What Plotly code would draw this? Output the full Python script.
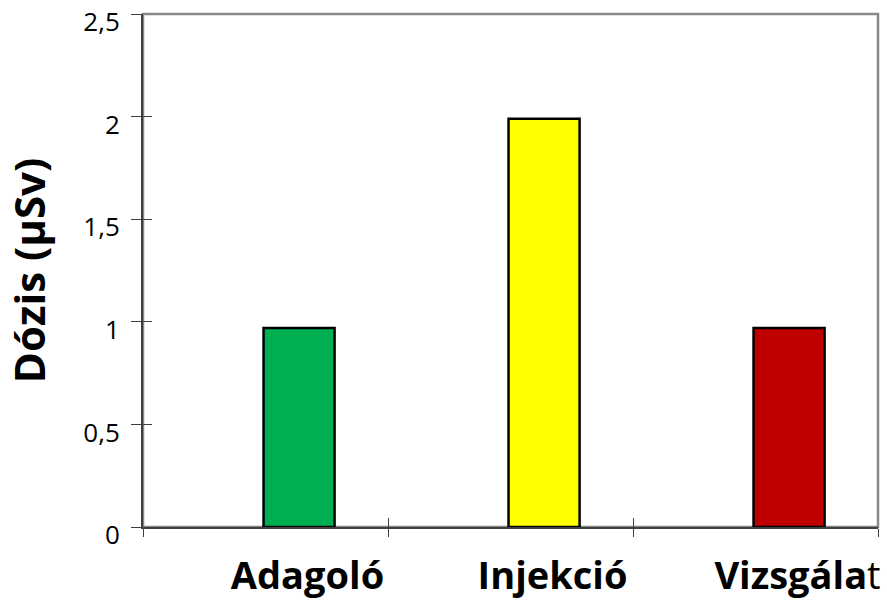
import plotly.graph_objects as go

categories = ["Adagoló", "Injekció", "Vizsgálat"]
tick_labels = ["<b>Adagoló</b>", "<b>Injekció</b>", "<b>Vizsgála</b>t"]
doses = [0.97, 1.99, 0.97]
bar_colors = ["#00B050", "#FFFF00", "#C00000"]
y_ticks = [0, 0.5, 1, 1.5, 2, 2.5]
y_title = "Dózis (µSv)"

FONT = "Open Sans"
AXIS_DARK = "#3f3f3f"

fig = go.Figure()
fig.add_trace(go.Bar(
    x=categories, y=doses,
    marker=dict(color=bar_colors, line=dict(color="black", width=2.5)),
    width=0.29, offset=-0.008,
    showlegend=False, hoverinfo="x+y",
))
# dummy trace for overlay axes (inner half of crossing ticks)
fig.add_trace(go.Scatter(x=[None], y=[None], xaxis="x2", yaxis="y2",
                         showlegend=False, hoverinfo="skip"))

fig.update_layout(
    width=887, height=601,
    margin=dict(l=143, r=9, t=14, b=74, autoexpand=False),
    paper_bgcolor="white", plot_bgcolor="white",
    separators=", ",
    font=dict(family=FONT, color="black"),
    xaxis=dict(
        type="category", categoryarray=categories, categoryorder="array",
        range=[-0.5, 2.5], tickson="boundaries",
        tickmode="array", tickvals=categories, ticktext=tick_labels,
        ticks="outside", ticklen=8, tickwidth=1, tickcolor=AXIS_DARK,
        showline=True, linecolor=AXIS_DARK, linewidth=2,
        showgrid=False, zeroline=False,
        tickfont=dict(family=FONT, size=38, color="black"),
        ticklabelshift=42, ticklabelstandoff=14, ticklabeloverflow="allow",
        automargin=False, fixedrange=True,
    ),
    yaxis=dict(
        range=[0, 2.5], tickmode="array", tickvals=y_ticks,
        ticktext=[f"{v:g}".replace(".", ",") for v in y_ticks],
        ticks="outside", ticklen=10, tickwidth=1, tickcolor=AXIS_DARK,
        showline=True, linecolor=AXIS_DARK, linewidth=2,
        showgrid=False, zeroline=False,
        tickfont=dict(family=FONT, size=26, color="black"),
        ticklabelstandoff=6, ticklabelshift=8, ticklabeloverflow="allow",
        title=dict(text="<b>" + y_title + "</b>",
                   font=dict(family=FONT, size=42, color="black"),
                   standoff=28),
        automargin=False, fixedrange=True,
    ),
    xaxis2=dict(
        overlaying="x", range=[0, 3], tickmode="array", tickvals=[0, 1, 2, 3],
        ticks="inside", ticklen=9, tickwidth=1, tickcolor=AXIS_DARK,
        showticklabels=False, showline=False, showgrid=False, zeroline=False,
        side="bottom", automargin=False, fixedrange=True,
    ),
    yaxis2=dict(
        overlaying="y", range=[0, 2.5], tickmode="array", tickvals=y_ticks,
        ticks="inside", ticklen=9, tickwidth=1, tickcolor=AXIS_DARK,
        showticklabels=False, showline=False, showgrid=False, zeroline=False,
        side="left", automargin=False, fixedrange=True,
    ),
    shapes=[dict(type="rect", xref="paper", yref="paper", x0=0, x1=1, y0=0, y1=1,
                 line=dict(color="#898989", width=2.5), layer="below")],
)

fig.write_html("out.html")
